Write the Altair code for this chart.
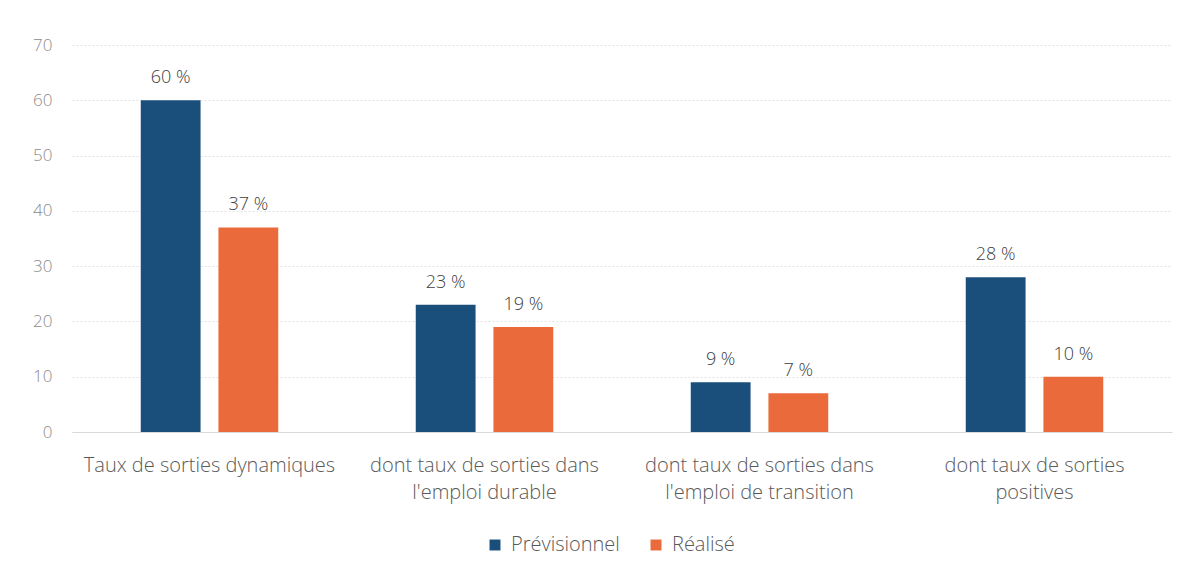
import altair as alt
import pandas as pd

categories = [
    "Taux de sorties dynamiques",
    "dont taux de sorties dans\nl'emploi durable",
    "dont taux de sorties dans\nl'emploi de transition",
    "dont taux de sorties\npositives",
]
series = ["Prévisionnel", "Réalisé"]
previsionnel = [60, 23, 9, 28]
realise = [37, 19, 7, 10]
colors = ["#1a4f7c", "#ea6a3c"]

rows = []
for c, p, r in zip(categories, previsionnel, realise):
    rows.append({"cat": c, "serie": series[0], "val": p, "lab": f"{p} %"})
    rows.append({"cat": c, "serie": series[1], "val": r, "lab": f"{r} %"})
df = pd.DataFrame(rows)

FONT = "Open Sans"
W = 300

x = alt.X(
    "cat:N",
    sort=categories,
    title=None,
    scale=alt.Scale(paddingInner=0.5, paddingOuter=0.25),
    axis=alt.Axis(
        labelExpr="split(datum.label, '\\n')",
        labelAngle=0,
        labelFontSize=20,
        labelFontWeight=W,
        labelColor="#595959",
        labelFont=FONT,
        labelPadding=23,
        labelLineHeight=27,
        labelLimit=0,
        ticks=False,
        domain=True,
        domainColor="#d9d9d9",
        grid=False,
    ),
)
xoff = alt.XOffset("serie:N", sort=series, scale=alt.Scale(paddingInner=0.23, paddingOuter=0))
y = alt.Y(
    "val:Q",
    title=None,
    scale=alt.Scale(domain=[0, 70], nice=False),
    axis=alt.Axis(
        values=[0, 10, 20, 30, 40, 50, 60, 70],
        labelFontSize=17,
        labelFontWeight=W,
        labelColor="#8c8c8c",
        labelFont=FONT,
        labelPadding=20,
        ticks=False,
        domain=False,
        gridColor="#e3e3e3",
        gridDash=[2, 2],
        gridWidth=1,
    ),
)

color = alt.Color(
    "serie:N",
    sort=series,
    scale=alt.Scale(domain=series, range=colors),
    legend=alt.Legend(
        title=None,
        orient="none",
        direction="horizontal",
        legendX=413,
        legendY=490,
        symbolType="square",
        symbolSize=120,
        symbolStrokeWidth=0,
        labelFontSize=20,
        labelFontWeight=W,
        labelColor="#595959",
        labelFont=FONT,
        labelLimit=300,
        labelOffset=6,
        columnPadding=26,
        symbolOffset=0,
    ),
)

bars = alt.Chart(df).mark_bar().encode(x=x, xOffset=xoff, y=y, color=color)
text = alt.Chart(df).mark_text(
    dy=-17, baseline="alphabetic", fontSize=18, fontWeight=W, color="#404040", font=FONT
).encode(x=x, xOffset=xoff, y=y, text="lab:N")

chart = (
    alt.layer(bars, text)
    .properties(
        width=1100,
        height=387,
        autosize=alt.AutoSizeParams(type="none"),
        padding={"left": 64, "top": 37, "right": 10, "bottom": 138},
        background="white",
    )
    .configure_view(stroke=None)
)

chart.save("out.html", embed_options={"renderer": "svg", "actions": False})
